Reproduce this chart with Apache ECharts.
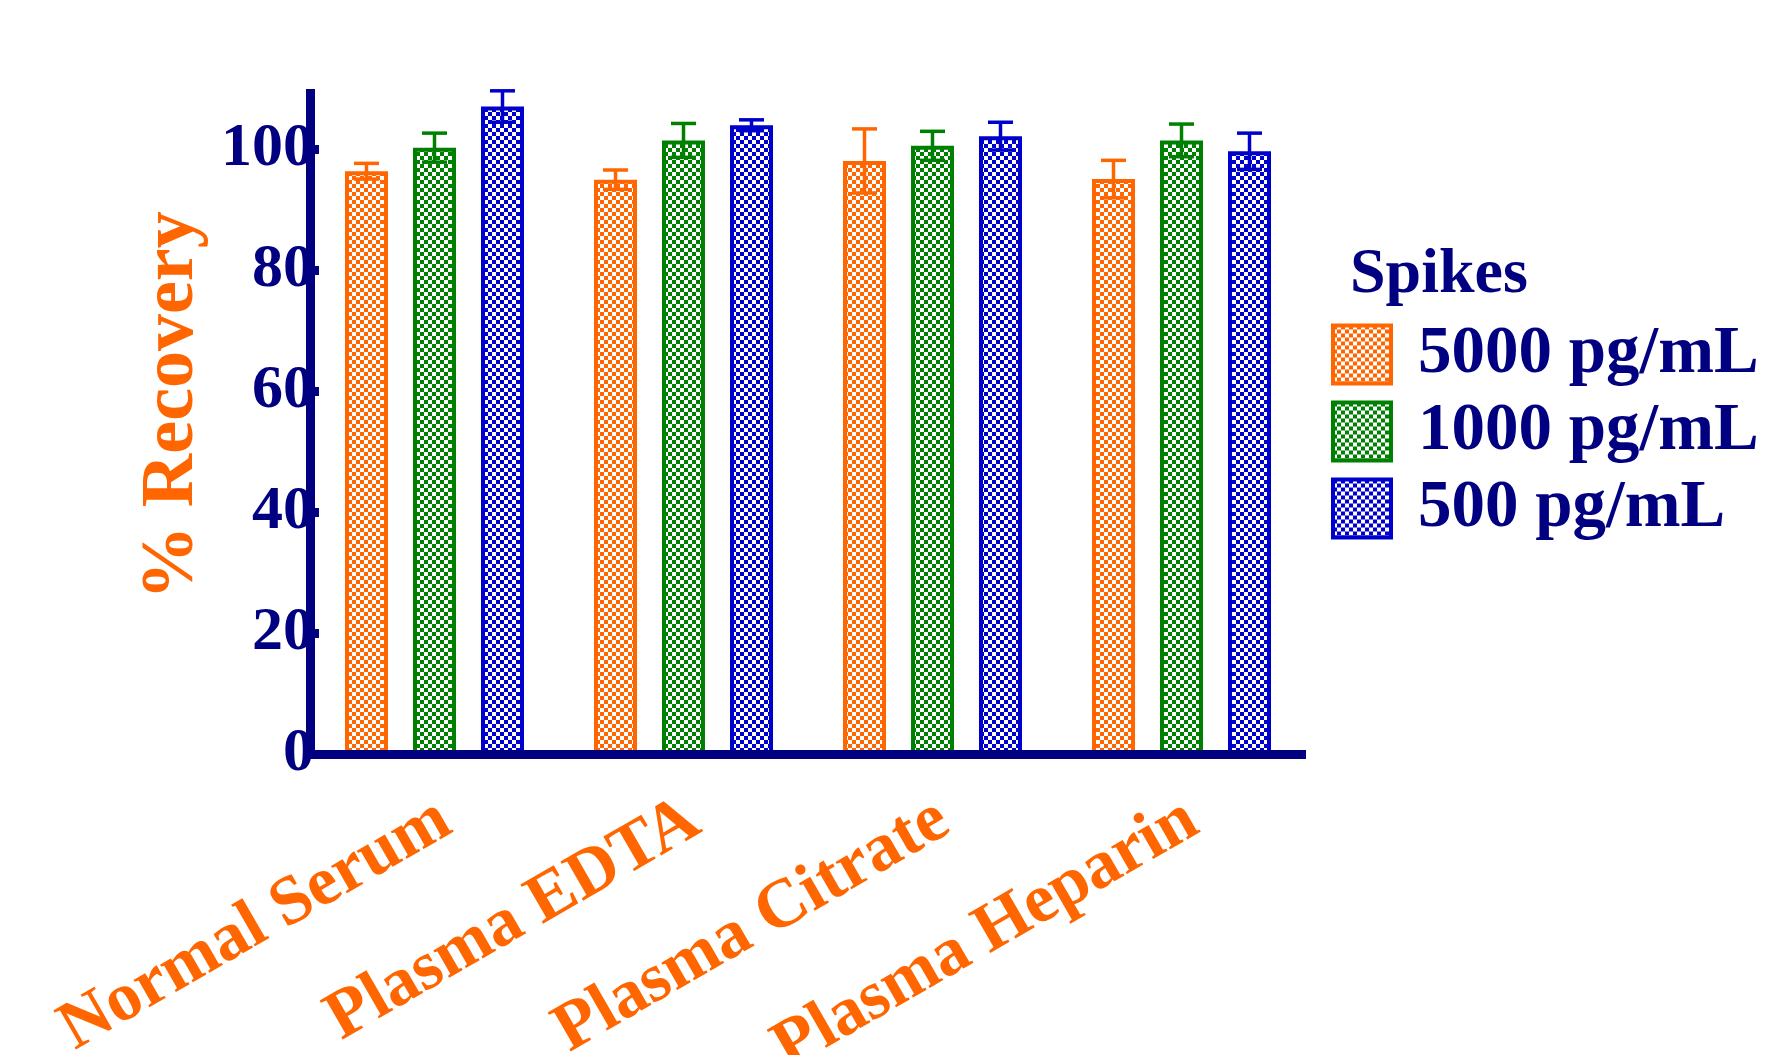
<!DOCTYPE html>
<html>
<head>
<meta charset="utf-8">
<script src="https://cdn.jsdelivr.net/npm/echarts@6/dist/echarts.min.js"></script>
<style>
  html, body { margin: 0; padding: 0; background: #ffffff; }
  #chart { width: 1769px; height: 1055px; }
</style>
</head>
<body>
<div id="chart"></div>
<script>
// Sample matrices and spike levels
const CATEGORIES = ['Normal Serum', 'Plasma EDTA', 'Plasma Citrate', 'Plasma Heparin'];
const SPIKES = ['5000 pg/mL', '1000 pg/mL', '500 pg/mL'];

// Mean % recovery and standard deviation per spike level
const MEAN_5000 = [96.4, 95.0, 98.1, 95.1];
const SD_5000   = [1.3, 1.6, 5.3, 3.1];
const MEAN_1000 = [100.3, 101.5, 100.6, 101.5];
const SD_1000   = [2.4, 2.8, 2.4, 2.7];
const MEAN_500  = [107.1, 104.0, 102.2, 99.7];
const SD_500    = [2.6, 0.9, 2.3, 3.0];

const Y_TICKS = [0, 20, 40, 60, 80, 100];
const Y_MAX = 110;

// Styling
const COLORS = ['#ff6600', '#008000', '#0000cc'];
const NAVY = '#000080';
const FONT = 'Liberation Serif';
const BAR_W = 43;
const BAR_GAP = 25;
const BORDER_W = 4;

function checker(color) {
  const c = document.createElement('canvas');
  c.width = 8; c.height = 8;
  const g = c.getContext('2d');
  g.fillStyle = '#ffffff';
  g.fillRect(0, 0, 8, 8);
  g.fillStyle = color;
  g.fillRect(0, 0, 4, 4);
  g.fillRect(4, 4, 4, 4);
  return { image: c, repeat: 'repeat' };
}

const means = [MEAN_5000, MEAN_1000, MEAN_500];
const sds = [SD_5000, SD_1000, SD_500];

const barSeries = SPIKES.map((name, k) => ({
  name: name,
  type: 'bar',
  data: means[k],
  barWidth: BAR_W,
  barGap: (BAR_GAP / BAR_W * 100) + '%',
  itemStyle: {
    color: checker(COLORS[k]),
    borderColor: COLORS[k],
    borderWidth: BORDER_W
  },
  z: 2
}));

const errSeries = SPIKES.map((name, k) => ({
  name: name + ' SD',
  type: 'custom',
  data: means[k].map((m, i) => [i, m - sds[k][i], m + sds[k][i]]),
  encode: { x: 0, y: [1, 2] },
  z: 4,
  renderItem: function (params, api) {
    const cat = api.value(0);
    const lo = api.coord([cat, api.value(1)]);
    const hi = api.coord([cat, api.value(2)]);
    const x = lo[0] + (k - 1) * (BAR_W + BAR_GAP);
    const half = 12.5;
    const style = { stroke: COLORS[k], lineWidth: 3.5 };
    return {
      type: 'group',
      children: [
        { type: 'line', shape: { x1: x, y1: hi[1], x2: x, y2: lo[1] }, style: style },
        { type: 'line', shape: { x1: x - half, y1: hi[1], x2: x + half, y2: hi[1] }, style: style },
        { type: 'line', shape: { x1: x - half, y1: lo[1], x2: x + half, y2: lo[1] }, style: style }
      ]
    };
  }
}));

const chart = echarts.init(document.getElementById('chart'), null, { renderer: 'canvas' });
chart.setOption({
  backgroundColor: '#ffffff',
  animation: false,
  title: [{
    text: 'Spikes',
    left: 1345,
    top: 238,
    textStyle: { color: NAVY, fontFamily: FONT, fontWeight: 'bold', fontSize: 64 }
  }],
  legend: {
    data: SPIKES,
    orient: 'vertical',
    left: 1326,
    top: 316,
    icon: 'rect',
    itemWidth: 58,
    itemHeight: 58,
    itemGap: 10,
    itemStyle: { borderWidth: BORDER_W },
    textStyle: { color: NAVY, fontFamily: FONT, fontWeight: 'bold', fontSize: 67, lineHeight: 62, padding: [0, 0, 0, 22] }
  },
  grid: { left: 310, right: 463, top: 89, bottom: 301, outerBoundsMode: 'none' },
  xAxis: {
    type: 'category',
    data: CATEGORIES,
    z: 10,
    axisLine: { lineStyle: { color: NAVY, width: 9, cap: 'butt' } },
    axisTick: { show: false },
    splitLine: { show: false },
    axisLabel: {
      interval: 0,
      rotate: 30,
      margin: 68,
      padding: [0, -13, 0, 0],
      color: '#ff6600',
      fontFamily: FONT,
      fontWeight: 'bold',
      fontSize: 69
    }
  },
  yAxis: {
    type: 'value',
    min: 0,
    max: Y_MAX,
    z: 10,
    name: '% Recovery',
    nameLocation: 'middle',
    nameGap: 100,
    nameTextStyle: { color: '#ff6600', fontFamily: FONT, fontWeight: 'bold', fontSize: 74, padding: [0, 0, 0, 32] },
    axisLine: { show: true, lineStyle: { color: NAVY, width: 9, cap: 'butt' } },
    axisTick: { show: true, inside: true, length: 9, lineStyle: { color: NAVY, width: 9 }, customValues: Y_TICKS },
    splitLine: { show: false },
    axisLabel: {
      customValues: Y_TICKS,
      margin: -4,
      color: NAVY,
      fontFamily: FONT,
      fontWeight: 'bold',
      fontSize: 62
    }
  },
  series: barSeries.concat(errSeries)
});
</script>
</body>
</html>
